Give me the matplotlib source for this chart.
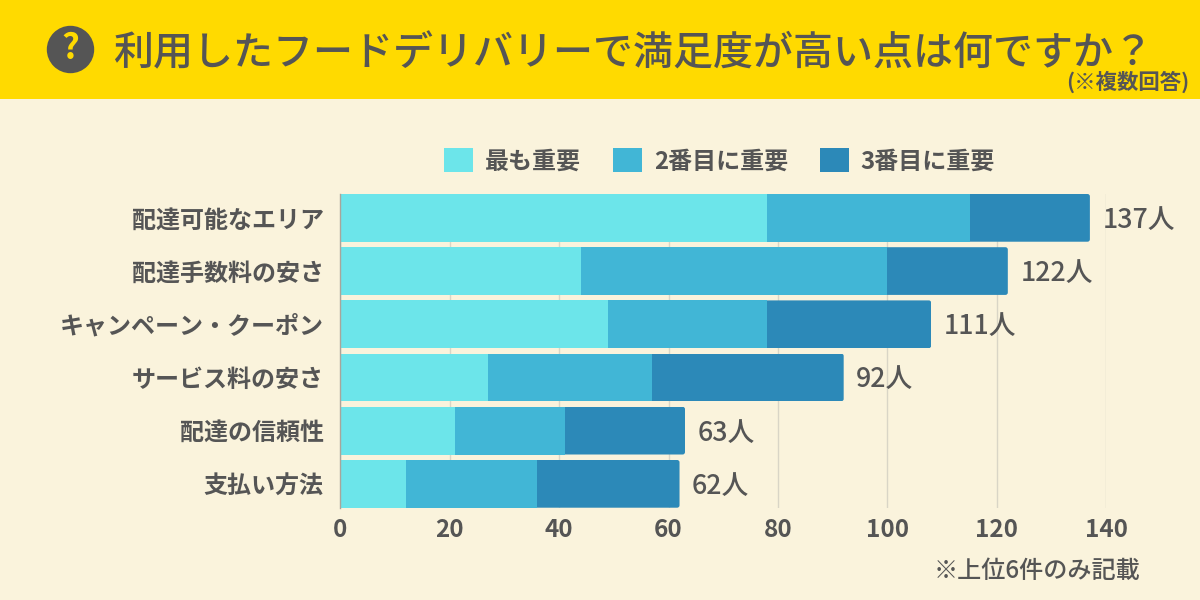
import matplotlib.pyplot as plt
from matplotlib.patches import Circle, FancyBboxPatch, Rectangle

plt.rcParams["font.family"] = ["Noto Sans CJK JP", "DejaVu Sans"]

categories = ["配達可能なエリア", "配達手数料の安さ", "キャンペーン・クーポン",
              "サービス料の安さ", "配達の信頼性", "支払い方法"]
first = [78, 44, 49, 27, 21, 12]
second = [37, 56, 29, 30, 20, 24]
third = [22, 22, 30, 35, 22, 26]
totals = ["137人", "122人", "111人", "92人", "63人", "62人"]
series_names = ["最も重要", "2番目に重要", "3番目に重要"]
xticks = [0, 20, 40, 60, 80, 100, 120, 140]

TEXT = "#555555"
BG = "#FAF3DC"
YELLOW = "#FFDA00"
COLORS = ["#6CE5EA", "#41B6D6", "#2C89B8"]
W, H = 1200, 600
BAR_H = 0.897


def fx(px):
    return px / W


def fy(py):
    return 1 - py / H


fig = plt.figure(figsize=(12, 6), dpi=100, facecolor=BG)

# header band
fig.patches.append(Rectangle((0, fy(99.5)), 1, 99.5 / H, transform=fig.transFigure,
                             facecolor=YELLOW, edgecolor="none"))
overlay = fig.add_axes([0, 0, 1, 1], zorder=2)
overlay.set_xlim(0, W)
overlay.set_ylim(H, 0)
overlay.axis("off")
overlay.add_patch(Circle((70.5, 49.5), 23.7, facecolor=TEXT, edgecolor="none"))
overlay.text(70.5, 48.5, "?", color=YELLOW, fontsize=25, fontweight="bold",
             ha="center", va="center")
overlay.text(113, 53.5, "利用したフードデリバリーで満足度が高い点は何ですか？", color=TEXT,
             fontsize=28.8, fontweight="medium", ha="left", va="center")
overlay.text(1189.5, 82, "(※複数回答)", color=TEXT, fontsize=15.4,
             fontweight="bold", ha="right", va="center")
overlay.text(1140, 571, "※上位6件のみ記載", color=TEXT, fontsize=17.4,
             fontweight="medium", ha="right", va="center")

ax = fig.add_axes([fx(340.3), fy(507.7), 766 / W, 313.7 / H], facecolor="none")
y = list(range(len(categories)))
left2 = [a for a in first]
left3 = [a + b for a, b in zip(first, second)]
ax.barh(y, first, height=BAR_H, color=COLORS[0], label=series_names[0], zorder=3)
ax.barh(y, second, left=left2, height=BAR_H, color=COLORS[1], label=series_names[1], zorder=3)
bars3 = ax.barh(y, third, left=left3, height=BAR_H, color=COLORS[2], label=series_names[2], zorder=3)

# small rounded corners on the right end of each bar
for i, bar in enumerate(bars3):
    clip = FancyBboxPatch((left3[i] - 2, i - BAR_H / 2), third[i] + 2, BAR_H,
                          boxstyle="round,pad=0,rounding_size=0.45",
                          mutation_aspect=0.1, transform=ax.transData)
    bar.set_clip_path(clip)

for i, label in enumerate(totals):
    end = left3[i] + third[i]
    ax.annotate(label, (end, i), xytext=(9, -1.8), textcoords="offset points",
                color=TEXT, fontsize=19.3, fontweight="medium", va="center", ha="left")

ax.set_xlim(0, 140)
ax.set_ylim(len(categories) - 1 + BAR_H / 2, -BAR_H / 2)
ax.set_xticks(xticks)
ax.set_yticks(y)
ax.set_yticklabels(categories)
ax.tick_params(axis="both", length=0, labelcolor=TEXT)
ax.tick_params(axis="y", pad=12, labelsize=17.3)
ax.tick_params(axis="x", pad=7.5, labelsize=17.5)
for lab in ax.get_xticklabels() + ax.get_yticklabels():
    lab.set_fontweight("bold")
ax.grid(axis="x", color="#D9D5C6", linewidth=1, zorder=0)
ax.set_axisbelow(True)
for name in ["top", "right", "bottom"]:
    ax.spines[name].set_visible(False)
ax.spines["left"].set_color("#A8A59B")
ax.spines["left"].set_linewidth(1)
ax.spines["left"].set_zorder(4)

ax.legend(loc="center", bbox_to_anchor=(fx(719.5), fy(160.5)),
          bbox_transform=fig.transFigure, ncol=3, frameon=False,
          labelcolor=TEXT, prop={"weight": "bold", "size": 17.3},
          handlelength=1.2, handleheight=1.2, handletextpad=0.5,
          columnspacing=1.33, borderpad=0, borderaxespad=0)

fig.savefig("out.png", dpi=100, facecolor=BG)
